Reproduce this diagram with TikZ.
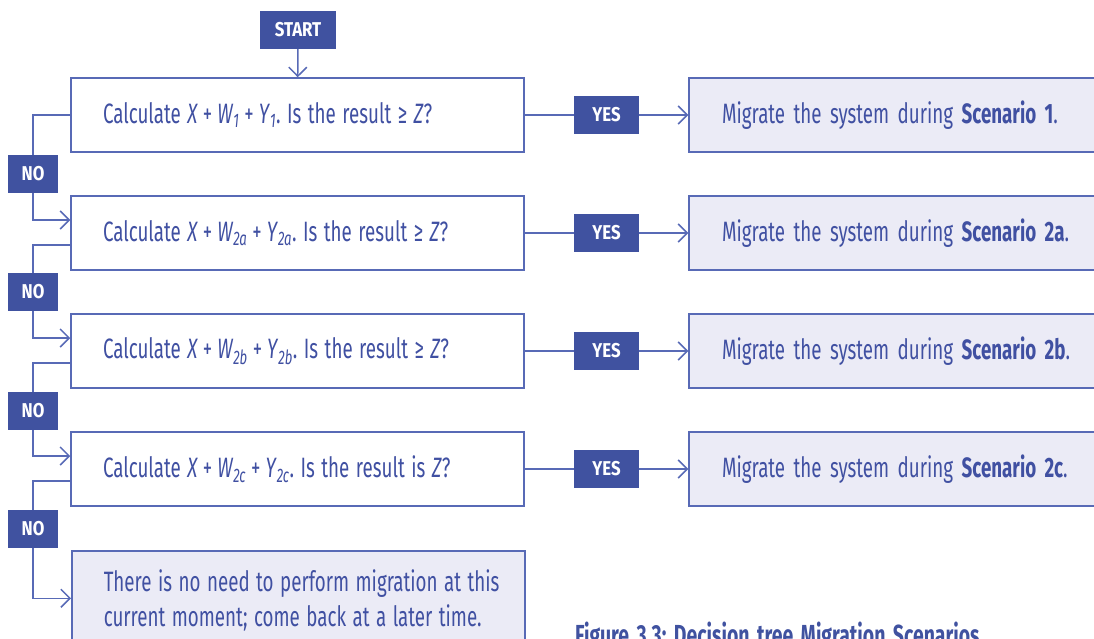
\documentclass[tikz,border=0pt]{standalone}
\usepackage{fontspec}
\setmainfont{Fira Sans}[FakeStretch=0.67]
\newfontfamily\tagfam{Fira Sans}[FakeStretch=0.84]
\frenchspacing
\usetikzlibrary{arrows.meta}
\definecolor{dkblue}{RGB}{64,82,160}
\definecolor{lnblue}{RGB}{88,106,182}
\definecolor{txblue}{RGB}{64,80,162}
\definecolor{ltfill}{RGB}{235,235,246}
\newcommand\qfont{\fontsize{28}{35}\selectfont\spaceskip=6.5pt plus 2pt minus 1pt\relax}
\newcommand\afont{\fontsize{28}{35}\selectfont\spaceskip=8.5pt plus 2pt minus 1pt\relax}
\newcommand\tagfont{\tagfam\fontsize{20}{24}\selectfont\bfseries}
\newcommand\capfont{\fontsize{29}{30}\selectfont\bfseries\spaceskip=7.5pt\relax}
\newcommand\pls{\hspace{5pt}+\hspace{5pt}}
\tikzset{
  qbox/.style={draw=lnblue, line width=1.5pt, fill=white, text=txblue, font=\qfont,
    align=flush left, text width=389pt, inner xsep=32pt, inner ysep=0pt, minimum height=74pt},
  abox/.style={draw=lnblue, line width=1.5pt, fill=ltfill, text=txblue, font=\afont,
    align=flush left, text width=400pt, inner xsep=33pt, inner ysep=0pt, minimum height=74pt},
  tag/.style={fill=dkblue, text=white, font=\tagfont, minimum height=38pt, inner sep=0pt},
  conn/.style={draw=lnblue, line width=1.5pt},
  arr/.style={conn, -{Straight Barb[length=9pt,width=18pt]}},
}
\begin{document}
\begin{tikzpicture}[x=1pt,y=-1pt]
\useasboundingbox (0,0) rectangle (1094,639);
\clip (0,0) rectangle (1094,639);
\node[tag, minimum width=76pt] (start) at (298,30) {START};
\node[qbox] (q1) at (297.5,115) {\mbox{Calculate \textit{X}\pls\textit{W}\textsubscript{\textit{1}}\pls\textit{Y}\textsubscript{\textit{1}}. Is the result ≥ \textit{Z}?}};
\node[qbox] (q2) at (297.5,233) {\mbox{Calculate \textit{X}\pls\textit{W}\textsubscript{\textit{2a}}\pls\textit{Y}\textsubscript{\textit{2a}}. Is the result ≥ \textit{Z}?}};
\node[qbox] (q3) at (297.5,351) {\mbox{Calculate \textit{X}\pls\textit{W}\textsubscript{\textit{2b}}\pls\textit{Y}\textsubscript{\textit{2b}}. Is the result ≥ \textit{Z}?}};
\node[qbox] (q4) at (297.5,469) {\mbox{Calculate \textit{X}\pls\textit{W}\textsubscript{\textit{2c}}\pls\textit{Y}\textsubscript{\textit{2c}}. Is the result is \textit{Z}?}};
\node[qbox, fill=ltfill, anchor=north west, minimum height=99pt] (end) at (71,550) {\mbox{There is no need to perform migration at this}\\\mbox{current moment; come back at a later time.}};
\node[tag, minimum width=65pt] (y1) at (606.5,115) {YES};
\node[tag, minimum width=65pt] (y2) at (606.5,233) {YES};
\node[tag, minimum width=65pt] (y3) at (606.5,351) {YES};
\node[tag, minimum width=65pt] (y4) at (606.5,469) {YES};
\node[abox] (a1) at (922,115) {Migrate the system during \textbf{Scenario 1}.};
\node[abox] (a2) at (922,233) {Migrate the system during \textbf{Scenario 2a}.};
\node[abox] (a3) at (922,351) {Migrate the system during \textbf{Scenario 2b}.};
\node[abox] (a4) at (922,469) {Migrate the system during \textbf{Scenario 2c}.};
\node[tag, minimum width=50pt] (n1) at (33,174) {NO};
\node[tag, minimum width=50pt] (n2) at (33,292) {NO};
\node[tag, minimum width=50pt] (n3) at (33,411) {NO};
\node[tag, minimum width=50pt] (n4) at (33,529) {NO};
\node[anchor=base west, font=\capfont, text=dkblue, inner sep=0pt] (cap) at (575,645) {Figure 3.3: Decision tree Migration Scenarios};
\draw[arr] (start) -- (q1);
\foreach \i in {1,2,3,4}{
  \draw[conn] (q\i) -- (y\i);
  \draw[arr] (y\i) -- (a\i);
}
\draw[conn] (q1.west) -| (n1.north);
\draw[arr] (n1.south) |- ([yshift=13pt]q2.west);
\draw[conn] ([yshift=-12pt]q2.west) -| (n2.north);
\draw[arr] (n2.south) |- ([yshift=13pt]q3.west);
\draw[conn] ([yshift=-12pt]q3.west) -| (n3.north);
\draw[arr] (n3.south) |- ([yshift=13pt]q4.west);
\draw[conn] ([yshift=-12pt]q4.west) -| (n4.north);
\draw[arr] (n4.south) |- ([yshift=2pt]end.west);
\end{tikzpicture}
\end{document}
